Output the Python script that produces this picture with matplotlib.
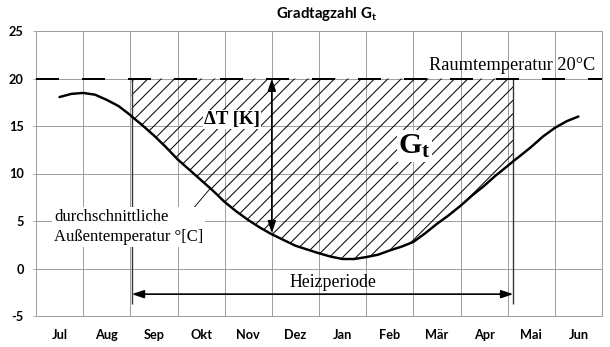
import matplotlib
matplotlib.use('Agg')
import matplotlib.pyplot as plt
import numpy as np

# --- data ---
months = ['Jul', 'Aug', 'Sep', 'Okt', 'Nov', 'Dez', 'Jan', 'Feb', 'Mär', 'Apr', 'Mai', 'Jun']
# position in months (0 = start of Jul) and mean outside temperature in °C
month_pos = [0.5, 0.75, 1.0, 1.25, 1.5, 1.75, 2.0, 2.03, 2.25, 2.5, 2.75, 3.0, 3.25,
             3.5, 3.75, 4.0, 4.25, 4.5, 4.75, 5.0, 5.25, 5.5, 5.75, 6.0, 6.25, 6.5,
             6.75, 7.0, 7.25, 7.5, 7.75, 8.0, 8.25, 8.5, 8.75, 9.0, 9.25, 9.5, 9.75,
             10.0, 10.12, 10.25, 10.5, 10.75, 11.0, 11.25, 11.5]
temp_out = [18.05, 18.38, 18.48, 18.3, 17.75, 17.1, 16.15, 16.0, 15.1, 14.0, 12.8,
            11.5, 10.4, 9.3, 8.2, 7.0, 6.0, 5.1, 4.3, 3.6, 3.0, 2.4, 2.0, 1.6, 1.25,
            1.0, 1.0, 1.2, 1.45, 1.9, 2.3, 2.8, 3.7, 4.7, 5.6, 6.6, 7.7, 8.7, 9.8,
            10.8, 11.3, 11.8, 12.8, 13.9, 14.8, 15.5, 16.0]
room_temp = 20
heat_start = 2.03
heat_end = 10.12
y_ticks = [-5, 0, 5, 10, 15, 20, 25]

DPI = 80
plt.rcParams['mathtext.fontset'] = 'custom'
plt.rcParams['mathtext.bf'] = 'Liberation Serif:bold'
plt.rcParams['mathtext.sf'] = 'Lato:bold'
plt.rcParams['hatch.linewidth'] = 0.9

fig = plt.figure(figsize=(610 / DPI, 347 / DPI), dpi=DPI)
ax = fig.add_axes([36 / 610, 31 / 347, 566 / 610, 285 / 347])

x = np.array(month_pos)
t = np.array(temp_out)

# hatched area (Gradtagzahl)
mask = (x >= heat_start) & (x <= heat_end)
ax.fill_between(x, t, room_temp, where=mask, facecolor='none', edgecolor='black',
                hatch='//', linewidth=0, zorder=2)

# outside temperature curve
ax.plot(x, t, color='black', lw=2.2, zorder=5, solid_capstyle='round')

# room temperature line
ax.axhline(room_temp, color='black', lw=1.8, linestyle=(0, (11.5, 11.5)), zorder=4)

# heating period boundaries
ax.vlines([heat_start, heat_end], -3.7, room_temp, color='#333333', lw=1.2, zorder=3)

# arrows
ax.annotate('', xy=(heat_start, -2.7), xytext=(heat_end, -2.7),
            arrowprops=dict(arrowstyle='<|-|>,head_length=0.9,head_width=0.3',
                            color='black', lw=1.5, shrinkA=0, shrinkB=0), zorder=6)
ax.annotate('', xy=(5.0, room_temp), xytext=(5.0, 3.7),
            arrowprops=dict(arrowstyle='<|-|>,head_length=0.9,head_width=0.3',
                            color='black', lw=1.5, shrinkA=0, shrinkB=0), zorder=6)

# texts
serif = 'Liberation Serif'
ax.text(11.85, 21.4, 'Raumtemperatur 20°C', family=serif, fontsize=16.5,
        ha='right', va='center', zorder=7)
ax.text(6.3, -1.5, 'Heizperiode', family=serif, fontsize=16,
        ha='center', va='center', zorder=7)
ax.text(0.38, 4.35, 'durchschnittliche\nAußentemperatur °[C]', family=serif,
        fontsize=15, ha='left', va='center', linespacing=1.3, zorder=7,
        bbox=dict(facecolor='white', edgecolor='none', pad=2))
ax.text(4.15, 15.7, 'ΔT [K]', family=serif, fontsize=17, fontweight='bold',
        ha='center', va='center', zorder=7,
        bbox=dict(facecolor='white', edgecolor='none', pad=1))
ax.text(8.03, 12.9, r'$\mathbf{G_t}$', fontsize=27, ha='center', va='center', zorder=7,
        bbox=dict(facecolor='white', edgecolor='none', pad=1))
ax.annotate('', xy=(3.69, 8.4), xytext=(3.16, 5.3),
            arrowprops=dict(arrowstyle='-', color='black', lw=0.8,
                            shrinkA=0, shrinkB=0), zorder=6)

# axes, grid
ax.set_xlim(0, 12)
ax.set_ylim(-5, 25)
ax.set_xticks(range(13))
ax.set_xticklabels([])
ax.set_xticks(np.arange(12) + 0.5, minor=True)
ax.set_xticklabels(months, minor=True, family='Lato', fontweight='bold', fontsize=11.5)
ax.tick_params(axis='x', which='major', length=0)
ax.tick_params(axis='x', which='minor', length=0, pad=12)
ax.set_yticks(y_ticks)
ax.set_yticklabels([str(v) for v in y_ticks], family='Lato', fontweight='bold', fontsize=11.5)
ax.tick_params(axis='y', length=3, color='#a0a0a0', pad=8)
ax.grid(True, which='major', color='#a0a0a0', lw=0.9, zorder=0)
ax.set_axisbelow(True)
for s in ax.spines.values():
    s.set_color('#a0a0a0')
    s.set_linewidth(0.9)

fig.text(326 / 610, 1 - 14 / 347, r'Gradtagzahl $\mathsf{G_t}$', family='Lato',
         fontweight='bold', fontsize=13.5, ha='center', va='center')

fig.savefig('out.png', dpi=DPI)
